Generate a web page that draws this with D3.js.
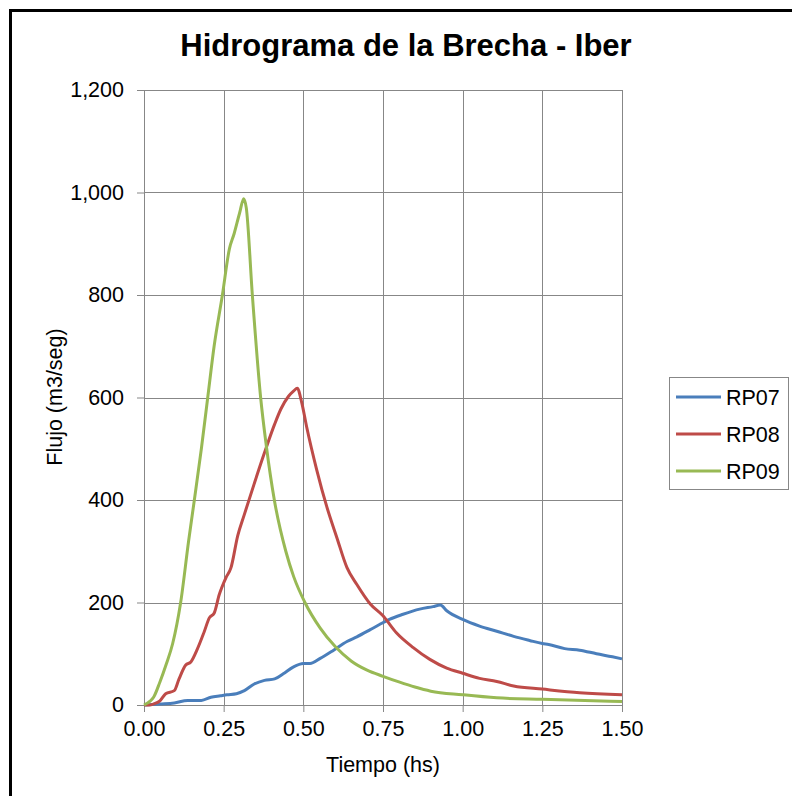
<!DOCTYPE html>
<html>
<head>
<meta charset="utf-8">
<script src="https://cdn.jsdelivr.net/npm/d3@7"></script>
<style>
  body { margin: 0; background: #fff; }
  svg text { font-family: Arial, "Liberation Sans", sans-serif; fill: #000; }
</style>
</head>
<body>
<div id="chart"></div>
<script>
// series (time in hours, flow in m3/seg)
const timeRP07 = [0, 0.05, 0.095, 0.137, 0.18, 0.21, 0.24, 0.26, 0.29, 0.315, 0.346, 0.378, 0.41, 0.437, 0.468, 0.5, 0.521, 0.553, 0.595, 0.637, 0.668, 0.71, 0.739, 0.77, 0.813, 0.865, 0.907, 0.93, 0.95, 1.0, 1.053, 1.107, 1.16, 1.21, 1.25, 1.27, 1.32, 1.367, 1.42, 1.47, 1.5];
const flowRP07 = [0, 2, 4, 9, 9, 15, 18, 20, 22, 28, 41, 48, 51, 61, 74, 81, 81, 91, 107, 124, 133, 147, 157, 167, 177, 187, 192, 195, 184, 167, 154, 144, 134, 126, 120, 118, 110, 107, 100, 94, 90];

const timeRP08 = [0, 0.016, 0.03, 0.05, 0.068, 0.095, 0.11, 0.131, 0.147, 0.168, 0.189, 0.205, 0.22, 0.236, 0.257, 0.273, 0.294, 0.315, 0.346, 0.378, 0.41, 0.43, 0.453, 0.47, 0.481, 0.495, 0.51, 0.542, 0.574, 0.605, 0.637, 0.668, 0.71, 0.75, 0.792, 0.845, 0.897, 0.95, 1.0, 1.053, 1.107, 1.16, 1.25, 1.367, 1.5];
const flowRP08 = [0, 0, 2, 8, 22, 28, 51, 78, 84, 110, 143, 170, 179, 215, 248, 268, 330, 372, 432, 492, 548, 578, 602, 613, 618, 590, 544, 459, 386, 327, 268, 235, 197, 174, 141, 112, 89, 72, 62, 52, 46, 37, 31, 24, 20];

const timeRP09 = [0, 0.02, 0.03, 0.05, 0.07, 0.09, 0.115, 0.14, 0.158, 0.18, 0.2, 0.22, 0.246, 0.268, 0.283, 0.3, 0.313, 0.321, 0.34, 0.366, 0.384, 0.409, 0.445, 0.47, 0.505, 0.553, 0.6, 0.65, 0.7, 0.75, 0.8, 0.85, 0.9, 1.0, 1.107, 1.25, 1.5];
const flowRP09 = [0, 8, 15, 45, 80, 120, 200, 320, 400, 500, 600, 700, 800, 890, 920, 960, 988, 970, 800, 600, 505, 400, 300, 250, 200, 150, 114, 86, 68, 56, 45, 35, 27, 20, 14, 11, 7];

const seriesNames = ["RP07", "RP08", "RP09"];
const seriesColors = ["#4a7ebb", "#be4b48", "#98b954"];
const xTicks = [0, 0.25, 0.5, 0.75, 1.0, 1.25, 1.5];
const yTicks = [0, 200, 400, 600, 800, 1000, 1200];

const series = [
  { name: seriesNames[0], t: timeRP07, v: flowRP07 },
  { name: seriesNames[1], t: timeRP08, v: flowRP08 },
  { name: seriesNames[2], t: timeRP09, v: flowRP09 }
];

const W = 792, H = 796;
const margin = { top: 90, left: 144 };
const width = 478, height = 615;
const fontSize = '21.5px';

const svg = d3.select('#chart')
  .append('svg')
  .attr('width', W)
  .attr('height', H);

// outer chart frame (cut off on the right and bottom in the reference)
svg.append('rect')
  .attr('x', 10.5).attr('y', 10.5)
  .attr('width', 900).attr('height', 900)
  .attr('fill', 'none')
  .attr('stroke', '#000')
  .attr('stroke-width', 3);

svg.append('text')
  .attr('x', 406)
  .attr('y', 56)
  .attr('text-anchor', 'middle')
  .style('font-size', '31px')
  .style('font-weight', 'bold')
  .text('Hidrograma de la Brecha - Iber');

const g = svg.append('g')
  .attr('transform', `translate(${margin.left},${margin.top})`);

const x = d3.scaleLinear().domain([0, 1.5]).range([0, width]);
const y = d3.scaleLinear().domain([0, 1200]).range([height, 0]);

// grid
g.append('g')
  .selectAll('line.v')
  .data(xTicks)
  .enter()
  .append('line')
  .attr('x1', d => Math.round(x(d)) + 0.5)
  .attr('x2', d => Math.round(x(d)) + 0.5)
  .attr('y1', 0)
  .attr('y2', height)
  .attr('stroke', '#878787');

g.append('g')
  .selectAll('line.h')
  .data(yTicks)
  .enter()
  .append('line')
  .attr('x1', 0)
  .attr('x2', width)
  .attr('y1', d => Math.round(y(d)) + 0.5)
  .attr('y2', d => Math.round(y(d)) + 0.5)
  .attr('stroke', '#878787');

// axes
const xAxis = g.append('g')
  .attr('transform', `translate(0,${height})`)
  .call(d3.axisBottom(x).tickValues(xTicks).tickFormat(d3.format('.2f')).tickSize(7).tickPadding(9));

const yAxis = g.append('g')
  .call(d3.axisLeft(y).tickValues(yTicks).tickFormat(d3.format(',')).tickSize(7).tickPadding(13));

[xAxis, yAxis].forEach(a => {
  a.select('.domain').remove();
  a.selectAll('line').attr('stroke', '#878787');
  a.selectAll('text').style('font-size', fontSize).attr('fill', '#000');
});

// lines
const line = d3.line()
  .x(d => x(d[0]))
  .y(d => y(d[1]))
  .curve(d3.curveMonotoneX);

series.forEach((s, i) => {
  g.append('path')
    .datum(s.t.map((t, j) => [t, s.v[j]]))
    .attr('fill', 'none')
    .attr('stroke', seriesColors[i])
    .attr('stroke-width', 3)
    .attr('stroke-linejoin', 'round')
    .attr('d', line);
});

// axis titles
svg.append('text')
  .attr('x', 383)
  .attr('y', 772)
  .attr('text-anchor', 'middle')
  .style('font-size', fontSize)
  .text('Tiempo (hs)');

svg.append('text')
  .attr('transform', 'rotate(-90)')
  .attr('x', -397)
  .attr('y', 62)
  .attr('text-anchor', 'middle')
  .style('font-size', fontSize)
  .text('Flujo (m3/seg)');

// legend
const legend = svg.append('g').attr('transform', 'translate(669,377)');
legend.append('rect')
  .attr('x', 0.5).attr('y', 0.5)
  .attr('width', 119).attr('height', 112)
  .attr('fill', '#fff')
  .attr('stroke', '#878787');

seriesNames.forEach((name, i) => {
  const cy = 20 + i * 37;
  legend.append('line')
    .attr('x1', 7).attr('x2', 52)
    .attr('y1', cy).attr('y2', cy)
    .attr('stroke', seriesColors[i])
    .attr('stroke-width', 3);
  legend.append('text')
    .attr('x', 57)
    .attr('y', cy + 8)
    .style('font-size', fontSize)
    .text(name);
});
</script>
</body>
</html>
